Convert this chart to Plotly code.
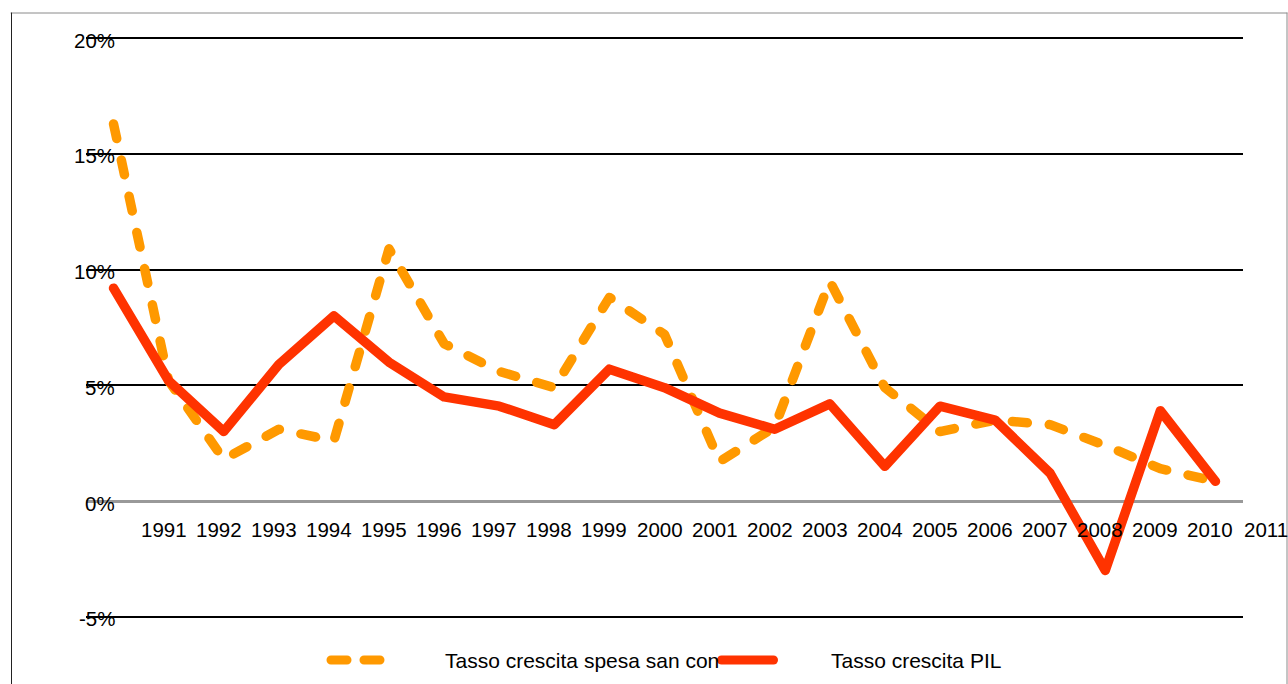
import plotly.graph_objects as go

# ---------------- data ----------------
point_index = list(range(21))  # one point per year 1990..2010
x_labels = ["1991", "1992", "1993", "1994", "1995", "1996", "1997", "1998", "1999", "2000",
            "2001", "2002", "2003", "2004", "2005", "2006", "2007", "2008", "2009", "2010", "2011"]
spesa_san = [16.3, 5.2, 1.8, 3.1, 2.6, 10.9, 6.8, 5.6, 4.9, 8.8, 7.2, 1.7, 3.2, 9.5, 4.9,
             3.0, 3.5, 3.3, 2.4, 1.4, 0.85]
pil = [9.2, 5.2, 3.0, 5.9, 8.0, 6.0, 4.5, 4.1, 3.3, 5.7, 4.9, 3.8, 3.1, 4.2, 1.5,
       4.1, 3.5, 1.2, -3.0, 3.9, 0.85]
y_ticks = [-5, 0, 5, 10, 15, 20]
y_tick_text = ["-5%", "0%", "5%", "10%", "15%", "20%"]
series_names = ["Tasso crescita spesa san con", "Tasso crescita PIL"]

# ---------------- style ----------------
W, H = 1288, 684
ML, MR, MT, MB = 86, 45, 36, 65
PW, PH = W - ML - MR, H - MT - MB
XR = [-0.5, 20.5]
YR = [-5.1, 20.1]
ORANGE = "#FF9900"
RED = "#FF3300"
FONT = "Liberation Sans, Arial, sans-serif"


def px_x(px):
    return (px - ML) / PW


def px_y(py):
    return (H - MB - py) / PH


fig = go.Figure()
fig.add_trace(go.Scatter(x=point_index, y=spesa_san, mode="lines", name=series_names[0],
                         line=dict(color=ORANGE, width=9.5, dash="15px,22px"), showlegend=False))
fig.add_trace(go.Scatter(x=point_index, y=pil, mode="lines", name=series_names[1],
                         line=dict(color=RED, width=9.5), showlegend=False))

annotations = []
# y tick labels (overlapping the grid lines, as in the original)
for v, t in zip(y_ticks, y_tick_text):
    annotations.append(dict(text=t, xref="paper", x=px_x(117), xanchor="right",
                            yref="y", y=v, yanchor="middle", yshift=-2, showarrow=False,
                            font=dict(family=FONT, size=20.5, color="black")))
# x labels (placed just below the zero line)
for i, lab in enumerate(x_labels):
    xi = i + 1
    annotations.append(dict(text=lab, xref="paper", x=(xi - XR[0]) / (XR[1] - XR[0]),
                            xanchor="center", xshift=-5, yref="y", y=-1.25, yanchor="middle",
                            showarrow=False, font=dict(family=FONT, size=20.5, color="black")))
# legend texts
annotations.append(dict(text=series_names[0], xref="paper", x=px_x(443), xanchor="left",
                        yref="paper", y=px_y(660), yanchor="middle", showarrow=False,
                        font=dict(family=FONT, size=21, color="black")))
annotations.append(dict(text=series_names[1], xref="paper", x=px_x(829), xanchor="left",
                        yref="paper", y=px_y(660), yanchor="middle", showarrow=False,
                        font=dict(family=FONT, size=21, color="black")))

shapes = [
    # outer frame: top and right grey, left darker
    dict(type="line", xref="paper", yref="paper", x0=px_x(11), x1=px_x(1287),
         y0=px_y(13), y1=px_y(13), line=dict(color="#8a8a8a", width=1), layer="below"),
    dict(type="line", xref="paper", yref="paper", x0=px_x(1287), x1=px_x(1287),
         y0=px_y(13), y1=px_y(700), line=dict(color="#8a8a8a", width=1), layer="below"),
    dict(type="line", xref="paper", yref="paper", x0=px_x(11.5), x1=px_x(11.5),
         y0=px_y(13), y1=px_y(700), line=dict(color="#222222", width=1), layer="below"),
    # legend keys
    dict(type="line", xref="paper", yref="paper", x0=px_x(331), x1=px_x(380),
         y0=px_y(660), y1=px_y(660), line=dict(color=ORANGE, width=9, dash="16px,17px"),
         layer="above"),
    dict(type="line", xref="paper", yref="paper", x0=px_x(721.5), x1=px_x(773.5),
         y0=px_y(660), y1=px_y(660), line=dict(color=RED, width=9), layer="above"),
]

fig.update_layout(
    width=W, height=H,
    margin=dict(l=ML, r=MR, t=MT, b=MB, pad=0, autoexpand=False),
    paper_bgcolor="white", plot_bgcolor="white",
    showlegend=False,
    xaxis=dict(range=XR, showgrid=False, zeroline=False, showline=False,
               showticklabels=False, ticks="", fixedrange=True),
    yaxis=dict(range=YR, tickvals=y_ticks, showticklabels=False, ticks="",
               showgrid=True, gridcolor="black", gridwidth=2.2,
               zeroline=True, zerolinecolor="#999999", zerolinewidth=3,
               showline=False, fixedrange=True),
    annotations=annotations,
    shapes=shapes,
    font=dict(family=FONT),
)

post = """
document.body.style.margin='0';
document.body.style.padding='0';
document.body.style.overflow='hidden';
function roundCaps(){
  document.querySelectorAll('.js-line, .shapelayer path').forEach(function(p){
    p.style.strokeLinecap='round'; p.style.strokeLinejoin='round';
  });
}
roundCaps();
setTimeout(roundCaps, 50);
"""
fig.write_html("out.html", post_script=post, config={"displayModeBar": False})
